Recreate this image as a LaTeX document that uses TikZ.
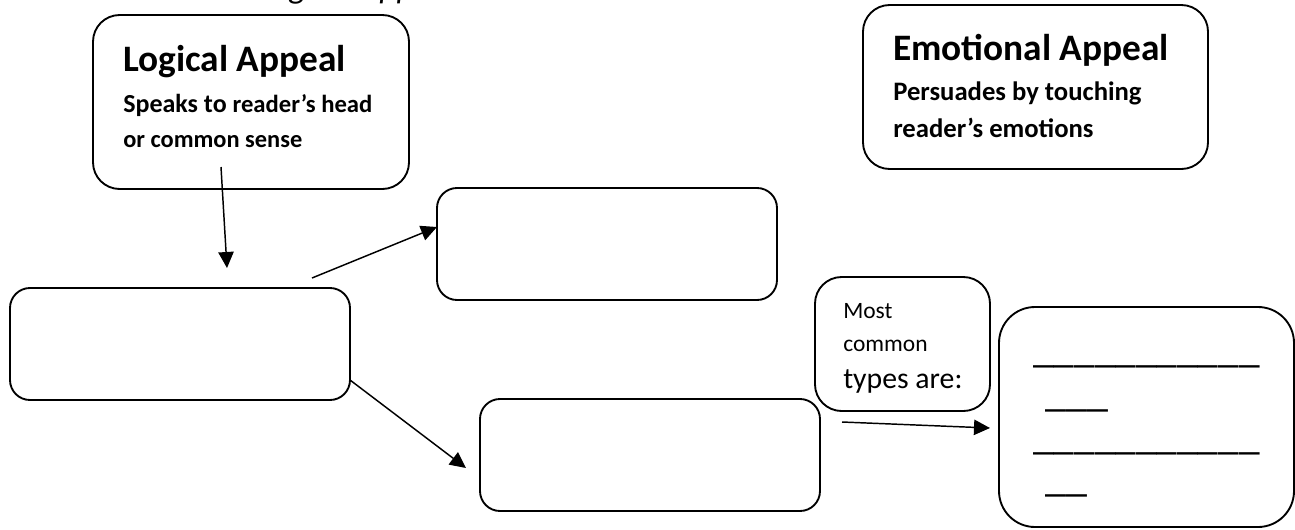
\documentclass[tikz,border=0pt]{standalone}
\usepackage{fontspec}
\setmainfont{Carlito}
\usetikzlibrary{arrows.meta,fit}
\begin{document}
\begin{tikzpicture}[x=0.75pt,y=-0.75pt,
  box/.style={draw, line width=1.4pt, inner sep=0pt},
  conn/.style={line width=1.1pt, -{Triangle[length=12pt,width=11.5pt]}},
  txt/.style={anchor=base west, inner sep=0pt}]
\useasboundingbox (0,0) rectangle (1295,529);
% cut-off heading at the top
\node[txt, font=\fontsize{25}{30}\selectfont\itshape] (head) at (258,-2) {Logical Appeal};
% boxes
\node[box, rounded corners=20pt, fit={(93,15) (409,189)}] (logical) {};
\node[box, rounded corners=20pt, fit={(863,5) (1208,169)}] (emotional) {};
\node[box, rounded corners=15pt, fit={(437,188) (777,300)}] (upper) {};
\node[box, rounded corners=15pt, fit={(10,288) (350,400)}] (left) {};
\node[box, rounded corners=15pt, fit={(480,399) (820,511)}] (lower) {};
\node[box, rounded corners=20pt, fit={(815,277) (990,411)}] (types) {};
\node[box, rounded corners=27pt, fit={(999,307) (1294,527)}] (blanks) {};
% texts
\node[txt, font=\fontsize{28}{33}\selectfont\bfseries] (lt) at (123,71) {Logical Appeal};
\node[txt, font=\fontsize{19.5}{23}\selectfont\bfseries] (l1) at (123,112) {Speaks to {\fontsize{18.5}{22}\selectfont reader’s head}};
\node[txt, font=\fontsize{18.3}{22}\selectfont\bfseries] (l2) at (123,147) {or common sense};
\node[txt, font=\fontsize{28}{33}\selectfont\bfseries] (et) at (893,60) {Emotional Appeal};
\node[txt, font=\fontsize{20}{24}\selectfont\bfseries] (e1) at (893,100) {Persuades by touching};
\node[txt, font=\fontsize{20}{24}\selectfont\bfseries] (e2) at (893,137) {reader’s emotions};
\node[txt, font=\fontsize{17.6}{21}\selectfont] (t1) at (843,318) {Most};
\node[txt, font=\fontsize{17.6}{21}\selectfont] (t2) at (843,351) {common};
\node[txt, font=\fontsize{22.3}{26}\selectfont] (t3) at (843,388) {types are:};
\node[txt, font=\fontsize{31}{36}\selectfont] (b1) at (1033,362) {\_\_\_\_\_\_\_\_\_\_\_};
\node[txt, font=\fontsize{31.5}{36}\selectfont] (b2) at (1045,406) {\_\_\_};
\node[txt, font=\fontsize{31}{36}\selectfont] (b3) at (1033,449) {\_\_\_\_\_\_\_\_\_\_\_};
\node[txt, font=\fontsize{31.5}{36}\selectfont] (b4) at (1045,491) {\_\_};
% connector ends
\coordinate (a1s) at (221,167);
\coordinate (a1e) at (227,268);
\coordinate (a2s) at (312,278);
\coordinate (a2e) at (437,227);
\coordinate (a3s) at (350,380);
\coordinate (a3e) at (466,468);
\coordinate (a4s) at (842,422);
\coordinate (a4e) at (990,428);
\draw[conn] (a1s) -- (a1e);
\draw[conn] (a2s) -- (a2e);
\draw[conn] (a3s) -- (a3e);
\draw[conn] (a4s) -- (a4e);
\end{tikzpicture}
\end{document}
